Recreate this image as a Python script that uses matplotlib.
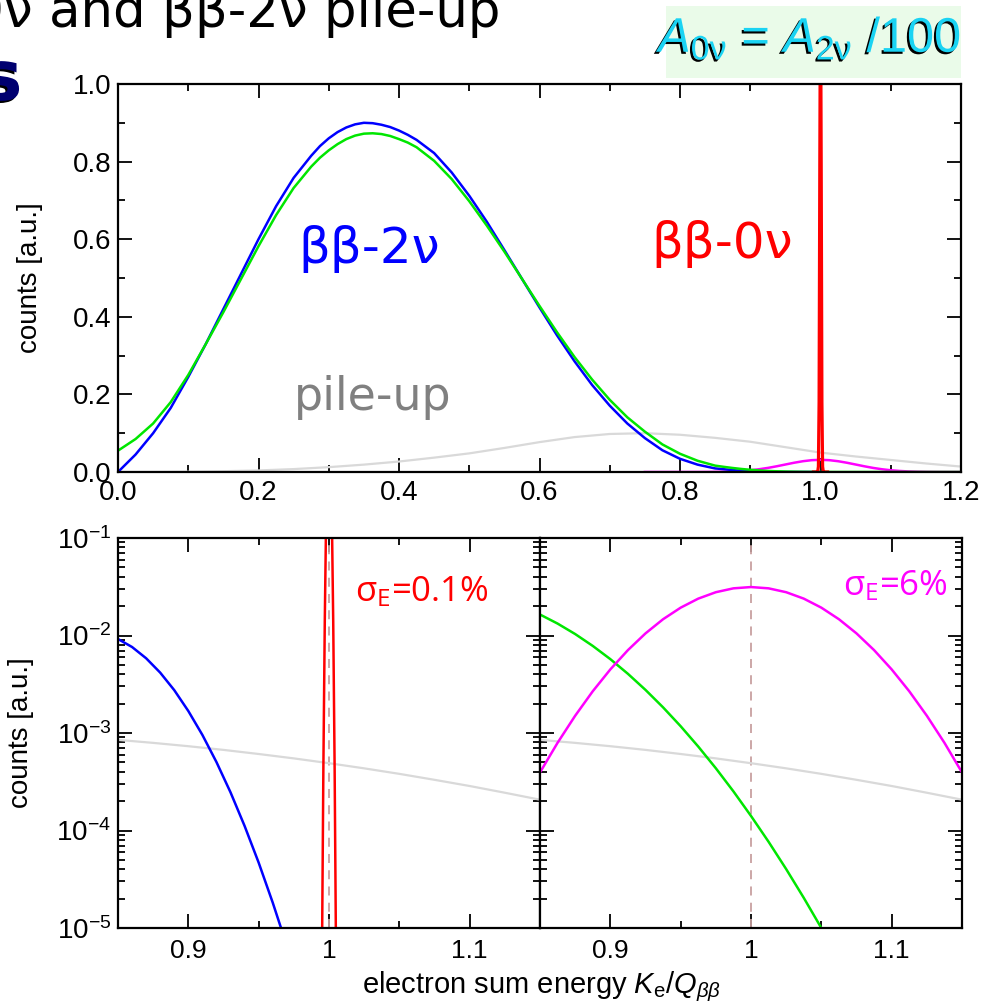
import numpy as np
import matplotlib
matplotlib.use('Agg')
import matplotlib.pyplot as plt
import matplotlib.ticker as mticker
import matplotlib.patheffects as pe
from matplotlib.patches import Rectangle

plt.rcParams['font.family'] = ['Liberation Sans', 'DejaVu Sans']
plt.rcParams['mathtext.fontset'] = 'custom'
plt.rcParams['mathtext.rm'] = 'Liberation Sans'
plt.rcParams['mathtext.it'] = 'Liberation Sans:italic'
plt.rcParams['mathtext.bf'] = 'Liberation Sans:bold'

# --- data ----------------------------------------------------------------
# bb-2nu true spectrum (blue)
x_2nu = [0.0, 0.025, 0.05, 0.075, 0.1, 0.125, 0.15, 0.175, 0.2, 0.225, 0.25,
         0.275, 0.2875, 0.3, 0.3125, 0.325, 0.3375, 0.35, 0.3625, 0.375, 0.3875, 0.4,
         0.4125, 0.425,
         0.45, 0.475, 0.5, 0.525, 0.55, 0.575, 0.6, 0.625, 0.65, 0.675, 0.7, 0.725,
         0.75, 0.775, 0.8, 0.825, 0.85,
         0.86, 0.87, 0.88, 0.89, 0.9, 0.91, 0.92, 0.93, 0.94, 0.95, 0.96, 0.97,
         0.98, 0.99, 1.0]
y_2nu = [0.0, 0.045, 0.10, 0.165, 0.245, 0.33, 0.42, 0.51, 0.60, 0.685, 0.758,
         0.815, 0.84, 0.86, 0.876, 0.888, 0.896, 0.9, 0.899, 0.895, 0.889, 0.88,
         0.869, 0.856,
         0.822, 0.772, 0.712, 0.645, 0.572, 0.498, 0.424, 0.352, 0.285, 0.224, 0.171, 0.125,
         0.0874, 0.056, 0.034, 0.019, 9.2e-3,
         7.62e-3, 5.84e-3, 4.16e-3, 2.75e-3, 1.68e-3, 9.55e-4, 5.03e-4, 2.46e-4, 1.113e-4,
         4.68e-5, 1.82e-5, 6.59e-6, 2.21e-6, 6.87e-7, 0.0]

# bb-2nu smeared with 6% resolution (green)
x_2nu_s = [0.0, 0.025, 0.05, 0.075, 0.1, 0.125, 0.15, 0.175, 0.2, 0.225, 0.25,
           0.275, 0.2875, 0.3, 0.3125, 0.325, 0.3375, 0.35, 0.3625, 0.375, 0.3875, 0.4,
           0.4125, 0.425,
           0.45, 0.475, 0.5, 0.525, 0.55, 0.575, 0.6, 0.625, 0.65, 0.675, 0.7, 0.725,
           0.75, 0.775, 0.8, 0.825,
           0.85, 0.8625, 0.875, 0.8875, 0.9, 0.9125, 0.925, 0.9375, 0.95, 0.9625, 0.975,
           0.9875, 1.0, 1.0125, 1.025, 1.0375, 1.05, 1.0625, 1.075, 1.0875, 1.1,
           1.15, 1.2]
y_2nu_s = [0.055, 0.085, 0.125, 0.18, 0.25, 0.33, 0.412, 0.497, 0.582, 0.662, 0.732,
           0.787, 0.81, 0.829, 0.845, 0.858, 0.867, 0.872, 0.873, 0.871, 0.866, 0.858,
           0.849, 0.837,
           0.802, 0.755, 0.698, 0.635, 0.568, 0.498, 0.428, 0.36, 0.296, 0.238, 0.186, 0.141,
           0.104, 0.071, 0.047, 0.029,
           0.01641, 0.01325, 0.01035, 0.00782, 0.005722, 0.004046, 0.002767, 0.001832,
           0.001173, 7.26e-4, 4.35e-4, 2.52e-4, 1.41e-4, 7.66e-5, 4.02e-5, 2.04e-5, 1.0e-5,
           4.74e-6, 2.18e-6, 9.7e-7, 4.2e-7,
           5e-9, 1e-11]

# bb-0nu with 0.1% resolution (red)
x_0nu = [0.99, 0.994, 0.995, 0.996, 0.997, 0.998, 0.999, 1.0, 1.001, 1.002, 1.003,
         1.004, 1.005, 1.006, 1.01]
y_0nu = [0.0, 2e-8, 5e-6, 4.4e-4, 0.014, 0.18, 0.79, 1.3, 0.79, 0.18, 0.014,
         4.4e-4, 5e-6, 2e-8, 0.0]

# bb-0nu with 6% resolution (magenta)
x_0nu_s = [0.75, 0.775, 0.8, 0.825, 0.8375, 0.85, 0.8625, 0.875, 0.8875, 0.9, 0.9125,
           0.925, 0.9375, 0.95, 0.9625, 0.975, 0.9875, 1.0, 1.0125, 1.025, 1.0375, 1.05,
           1.0625, 1.075, 1.0875, 1.1, 1.1125, 1.125, 1.1375, 1.15, 1.1625, 1.175, 1.2,
           1.225, 1.25]
y_0nu_s = [1.6e-7, 1.66e-6, 1.31e-5, 8.1e-5, 1.85e-4, 3.94e-4, 7.94e-4, 1.503e-3, 2.68e-3,
           4.49e-3, 7.08e-3, 1.051e-2, 1.469e-2, 1.93e-2, 2.389e-2, 2.78e-2, 3.046e-2, 3.14e-2,
           3.046e-2, 2.78e-2, 2.389e-2, 1.93e-2, 1.469e-2, 1.051e-2, 7.08e-3, 4.49e-3, 2.68e-3,
           1.503e-3, 7.94e-4, 3.94e-4, 1.85e-4, 8.1e-5, 1.31e-5, 1.66e-6, 1.6e-7]

# pile-up, linear panel (light grey)
x_pile = [0.0, 0.05, 0.1, 0.15, 0.2, 0.25, 0.3, 0.35, 0.4, 0.45, 0.5, 0.55, 0.6,
          0.65, 0.7, 0.75, 0.8, 0.85, 0.9, 0.95, 1.0, 1.05, 1.1, 1.15, 1.2]
y_pile = [0.0, 0.0002, 0.0008, 0.002, 0.004, 0.0075, 0.0125, 0.019, 0.027, 0.037, 0.048,
          0.062, 0.077, 0.09, 0.098, 0.1, 0.096, 0.088, 0.078, 0.064, 0.05, 0.04, 0.031,
          0.022, 0.014]

# pile-up, log panels
x_pile_log = [0.85, 0.875, 0.9, 0.925, 0.95, 0.975, 1.0, 1.025, 1.05, 1.075, 1.1, 1.125, 1.15]
y_pile_log = [8.50e-4, 7.92e-4, 7.32e-4, 6.71e-4, 6.09e-4, 5.49e-4, 4.90e-4, 4.34e-4,
              3.81e-4, 3.31e-4, 2.86e-4, 2.44e-4, 2.07e-4]

BLUE = '#0000ff'
GREEN = '#00e600'
RED = '#ff0000'
MAGENTA = '#ff00ff'
GREY = '#d9d9d9'

W, H = 984, 1007


def px(x0, y0, x1, y1):
    # pixel box -> figure fraction rect
    return [x0 / W, 1 - y1 / H, (x1 - x0) / W, (y1 - y0) / H]


def style(ax):
    for s in ax.spines.values():
        s.set_linewidth(1.6)
    ax.tick_params(which='both', direction='in', top=True, right=True, width=1.3)
    ax.tick_params(which='major', length=10)
    ax.tick_params(which='minor', length=5)


fig = plt.figure(figsize=(W / 100, H / 100), dpi=100)

# --- top panel ------------------------------------------------------------
ax = fig.add_axes(px(118, 84, 961, 472))
style(ax)
ax.plot(x_pile, y_pile, color=GREY, lw=1.6)
ax.plot(x_0nu_s, y_0nu_s, color=MAGENTA, lw=1.8)
ax.plot(x_2nu, y_2nu, color=BLUE, lw=1.8)
ax.plot(x_2nu_s, y_2nu_s, color=GREEN, lw=1.8)
ax.plot(x_0nu, y_0nu, color=RED, lw=2.3)
ax.set_xlim(0, 1.2)
ax.set_ylim(0, 1.0)
ax.xaxis.set_major_locator(mticker.MultipleLocator(0.2))
ax.xaxis.set_minor_locator(mticker.MultipleLocator(0.1))
ax.yaxis.set_major_locator(mticker.MultipleLocator(0.2))
ax.yaxis.set_minor_locator(mticker.MultipleLocator(0.1))
ax.xaxis.set_major_formatter(mticker.FormatStrFormatter('%.1f'))
ax.yaxis.set_major_formatter(mticker.FormatStrFormatter('%.1f'))
ax.tick_params(axis='x', labelsize=20, pad=6)
ax.tick_params(axis='y', labelsize=20, pad=5)
ax.set_ylabel('counts [a.u.]', fontsize=20)
ax.yaxis.set_label_coords(-0.089, 0.5)
ax.text(0.358, 0.539, 'ββ-2ν', color=BLUE, fontsize=36, family='DejaVu Sans',
        ha='center', va='baseline')
ax.text(0.86, 0.552, 'ββ-0ν', color=RED, fontsize=36, family='DejaVu Sans',
        ha='center', va='baseline')
ax.text(0.362, 0.16, 'pile-up', color='#808080', fontsize=33, family='DejaVu Sans',
        ha='center', va='baseline')

# --- bottom panels --------------------------------------------------------
axl = fig.add_axes(px(118, 538, 540, 928))
axr = fig.add_axes(px(540, 538, 962, 928))
for a in (axl, axr):
    style(a)
    a.set_yscale('log')
    a.set_xlim(0.85, 1.15)
    a.set_ylim(1e-5, 1e-1)
    a.xaxis.set_major_locator(mticker.MultipleLocator(0.1))
    a.xaxis.set_minor_locator(mticker.MultipleLocator(0.05))
    a.xaxis.set_major_formatter(mticker.FuncFormatter(lambda v, p: '%g' % round(v, 3)))
    a.yaxis.set_major_locator(mticker.LogLocator(base=10, numticks=10))
    a.yaxis.set_minor_locator(mticker.LogLocator(base=10, subs=np.arange(2, 10), numticks=20))
    a.yaxis.set_minor_formatter(mticker.NullFormatter())
    a.tick_params(axis='x', labelsize=19, pad=8)
    a.tick_params(axis='y', labelsize=20, pad=5)
    a.axvline(1.0, color='#c8a0a0', ls='--', lw=1.3, dashes=(5, 4))
    a.plot(x_pile_log, y_pile_log, color=GREY, lw=1.6)

axl.plot(x_2nu, y_2nu, color=BLUE, lw=1.8)
axl.plot(x_0nu, y_0nu, color=RED, lw=1.8)
axl.set_ylabel('counts [a.u.]', fontsize=20)
axl.yaxis.set_label_coords(-0.2, 0.5)
axl.text((355 - 118) / 422, (928 - 601) / 390, r'σ$_\mathregular{E}$=0.1%', color=RED,
         fontsize=25, family='Open Sans', ha='left', va='baseline', transform=axl.transAxes)

axr.plot(x_2nu_s, y_2nu_s, color=GREEN, lw=1.8)
axr.plot(x_0nu_s, y_0nu_s, color=MAGENTA, lw=1.8)
axr.tick_params(axis='y', labelleft=False)
axr.text((948 - 540) / 422, (928 - 595) / 390, r'σ$_\mathregular{E}$=6%', color=MAGENTA,
         fontsize=25, family='Open Sans', ha='right', va='baseline', transform=axr.transAxes)

fig.text(542 / W, 1 - 993 / H, r'electron sum energy $K_\mathrm{e}/Q_{\beta\beta}$',
         fontsize=21, ha='center', va='baseline')

# --- decorations from the slide ------------------------------------------
fig.add_artist(Rectangle((666 / W, 1 - 78 / H), 295 / W, 72 / H, transform=fig.transFigure,
                         facecolor='#eafbe9', edgecolor='none'))
shadow = [pe.withSimplePatchShadow(offset=(-1.5, -1.5), shadow_rgbFace='black', alpha=1.0)]
fig.text(811 / W, 1 - 52 / H, r'$A_{\mathrm{0ν}}$ = $A_{\mathrm{2ν}}$ /100', color='#1ad3f3',
         fontsize=35, ha='center', va='baseline', path_effects=shadow)
fig.text(500 / W, 1 - 27 / H, 'ββ-0ν and ββ-2ν pile-up', fontsize=37, family='DejaVu Sans',
         ha='right', va='baseline', color='black')
fig.text(-19 / W, 1 - 100 / H, 's', fontsize=50, weight='bold', color='#000070',
         family='DejaVu Sans', ha='left', va='baseline', path_effects=shadow)

fig.savefig('out.png', dpi=100)
